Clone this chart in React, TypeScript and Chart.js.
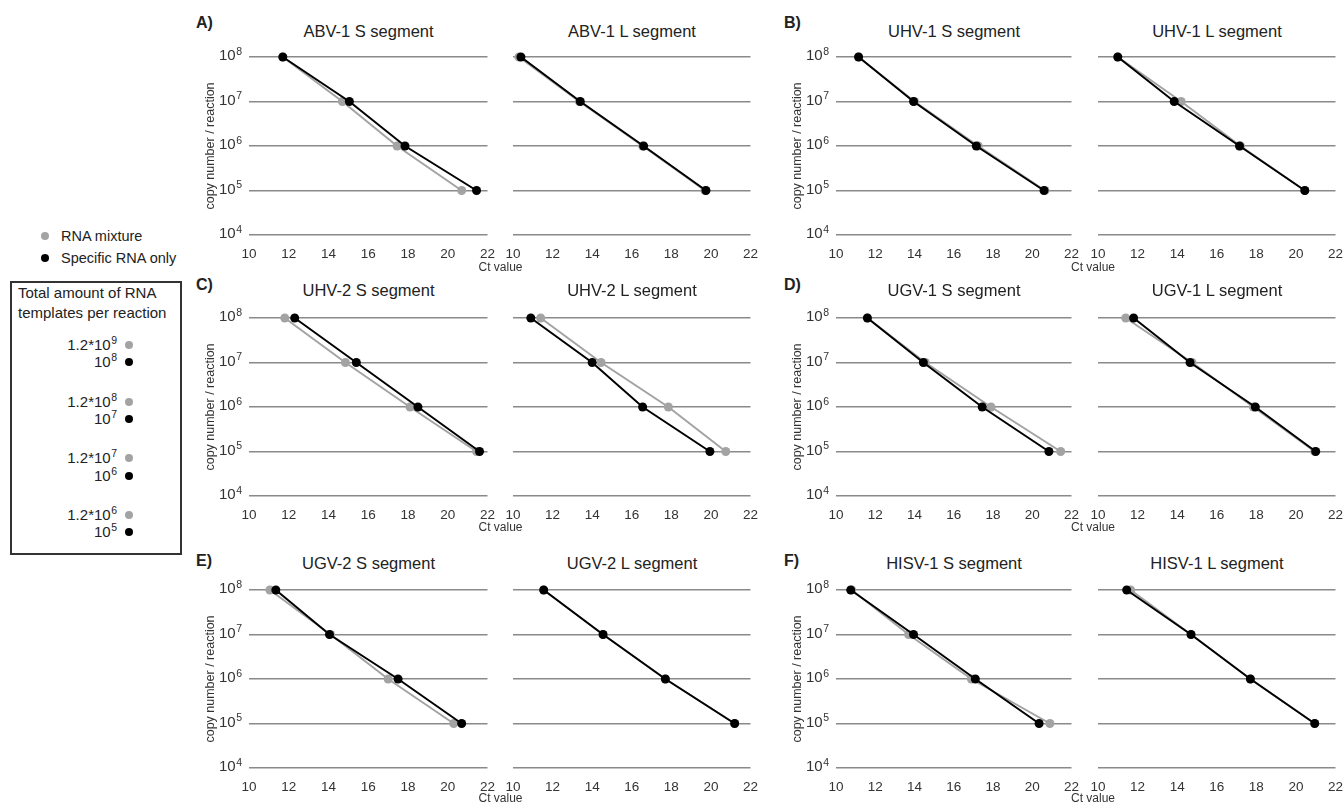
import React, { useEffect, useRef } from "react";
import { Chart, registerables } from "chart.js";

Chart.register(...registerables);

const FONT = '"Liberation Sans", Arial, sans-serif';
const GRAY = "#a3a3a3";
const TEXT = "#333333";

// copy numbers per reaction (specific template) for the 4 dilution steps
const copyNumbers = [1e8, 1e7, 1e6, 1e5];
const yTicks = [1e4, 1e5, 1e6, 1e7, 1e8];
const xTicks = [10, 12, 14, 16, 18, 20, 22];

const panelTitles = [
  "ABV-1 S segment", "ABV-1 L segment",
  "UHV-1 S segment", "UHV-1 L segment",
  "UHV-2 S segment", "UHV-2 L segment",
  "UGV-1 S segment", "UGV-1 L segment",
  "UGV-2 S segment", "UGV-2 L segment",
  "HISV-1 S segment", "HISV-1 L segment",
];
const panelLetters = ["A)", "B)", "C)", "D)", "E)", "F)"];

// Ct values: RNA mixture (grey) and specific RNA only (black)
const abv1S_mix = [11.7, 14.7, 17.45, 20.7];
const abv1S_spec = [11.7, 15.05, 17.85, 21.45];
const abv1L_mix = [10.3, 13.35, 16.55, 19.7];
const abv1L_spec = [10.4, 13.4, 16.6, 19.75];
const uhv1S_mix = [11.15, 14.0, 17.25, 20.65];
const uhv1S_spec = [11.15, 13.95, 17.15, 20.6];
const uhv1L_mix = [11.0, 14.2, 17.2, 20.45];
const uhv1L_spec = [11.0, 13.85, 17.15, 20.45];
const uhv2S_mix = [11.8, 14.85, 18.1, 21.45];
const uhv2S_spec = [12.3, 15.4, 18.5, 21.6];
const uhv2L_mix = [11.4, 14.45, 17.85, 20.75];
const uhv2L_spec = [10.9, 14.0, 16.55, 19.95];
const ugv1S_mix = [11.6, 14.55, 17.9, 21.45];
const ugv1S_spec = [11.6, 14.45, 17.45, 20.85];
const ugv1L_mix = [11.4, 14.75, 17.85, 20.95];
const ugv1L_spec = [11.8, 14.65, 17.95, 21.0];
const ugv2S_mix = [11.05, 14.1, 17.0, 20.3];
const ugv2S_spec = [11.35, 14.05, 17.5, 20.7];
const ugv2L_mix = [11.55, 14.55, 17.7, 21.2];
const ugv2L_spec = [11.55, 14.55, 17.7, 21.2];
const hisv1S_mix = [10.8, 13.7, 16.9, 20.9];
const hisv1S_spec = [10.75, 13.95, 17.1, 20.35];
const hisv1L_mix = [11.65, 14.7, 17.7, 20.95];
const hisv1L_spec = [11.45, 14.7, 17.7, 20.95];

const mixSeries = [abv1S_mix, abv1L_mix, uhv1S_mix, uhv1L_mix, uhv2S_mix, uhv2L_mix, ugv1S_mix, ugv1L_mix, ugv2S_mix, ugv2L_mix, hisv1S_mix, hisv1L_mix];
const specSeries = [abv1S_spec, abv1L_spec, uhv1S_spec, uhv1L_spec, uhv2S_spec, uhv2L_spec, ugv1S_spec, ugv1L_spec, ugv2S_spec, ugv2L_spec, hisv1S_spec, hisv1L_spec];

// legend entries
const legendMix = ["9", "8", "7", "6"];
const legendSpec = ["8", "7", "6", "5"];

// layout
const COL_X = [[249, 488], [513, 751], [836, 1072], [1098, 1336]];
const ROW_Y = [[57, 235], [318, 496], [590, 768]];
const LETTER_Y = [23, 285, 561];
const TITLE_Y = [31, 290, 563];
const CT_Y = [267, 527, 798];

const supTickPlugin = {
  id: "supTicks",
  afterDraw(chart: any, _args: any, opts: any) {
    if (!opts || !opts.enabled) return;
    const ctx = chart.ctx;
    const ys = chart.scales.y;
    const xr = chart.chartArea.left - 7;
    ctx.save();
    ctx.fillStyle = TEXT;
    yTicks.forEach((v) => {
      const py = ys.getPixelForValue(v);
      const exp = String(Math.round(Math.log10(v)));
      ctx.font = `10.5px ${FONT}`;
      ctx.textAlign = "right";
      ctx.textBaseline = "alphabetic";
      const ew = ctx.measureText(exp).width;
      ctx.fillText(exp, xr, py - 2.5);
      ctx.font = `15px ${FONT}`;
      ctx.textBaseline = "middle";
      ctx.fillText("10", xr - ew - 0.5, py - 1);
    });
    ctx.restore();
  },
};

function Panel({ idx }: { idx: number }) {
  const ref = useRef<HTMLCanvasElement>(null);
  const col = (Math.floor(idx / 2) % 2) * 2 + (idx % 2);
  const row = Math.floor(idx / 4);
  const [x0, x1] = COL_X[col];
  const [y0, y1] = ROW_Y[row];
  const showY = col % 2 === 0;
  const yW = showY ? 46 : 0;
  const padL = showY ? 4 : 12;
  const padR = 10;
  const padT = 10;
  const xH = 24;
  const padB = 10;
  const left = x0 - yW - padL;
  const top = y0 - padT;
  const width = padL + yW + (x1 - x0) + padR;
  const height = padT + (y1 - y0) + xH + padB;

  useEffect(() => {
    if (!ref.current) return;
    const spec = specSeries[idx];
    const mix = mixSeries[idx];
    const chart = new Chart(ref.current, {
      type: "line",
      data: {
        datasets: [
          {
            label: "Specific RNA only",
            data: spec.map((c, i) => ({ x: c, y: copyNumbers[i] })),
            borderColor: "#000",
            backgroundColor: "#000",
            pointBackgroundColor: "#000",
            pointRadius: 4.5,
            pointBorderWidth: 0,
            borderWidth: 2,
            clip: false as any,
          },
          {
            label: "RNA mixture",
            data: mix.map((c, i) => ({ x: c, y: copyNumbers[i] })),
            borderColor: GRAY,
            backgroundColor: GRAY,
            pointBackgroundColor: GRAY,
            pointRadius: 4.5,
            pointBorderWidth: 0,
            borderWidth: 2,
            clip: false as any,
          },
        ],
      },
      options: {
        responsive: false,
        animation: false,
        events: [],
        layout: { padding: { left: padL, right: padR, top: padT, bottom: padB } },
        plugins: {
          legend: { display: false },
          tooltip: { enabled: false },
          supTicks: { enabled: showY },
        } as any,
        scales: {
          x: {
            type: "linear",
            min: 10,
            max: 22,
            afterBuildTicks: (a: any) => {
              a.ticks = xTicks.map((v) => ({ value: v }));
            },
            afterFit: (s: any) => {
              s.height = xH;
            },
            grid: { display: false },
            border: { display: false },
            ticks: {
              padding: 3,
              color: TEXT,
              font: { family: FONT, size: 13.5 },
              maxRotation: 0,
              autoSkip: false,
            },
          },
          y: {
            type: "logarithmic",
            min: 1e4,
            max: 1e8,
            afterBuildTicks: (a: any) => {
              a.ticks = yTicks.map((v) => ({ value: v }));
            },
            afterFit: (s: any) => {
              s.width = yW;
            },
            grid: { color: "#8a8a8a", lineWidth: 1.5, drawTicks: false },
            border: { display: false },
            ticks: { display: false },
            title: {
              display: showY,
              text: "copy number / reaction",
              color: TEXT,
              font: { family: FONT, size: 12.5 },
              padding: 0,
            },
          },
        },
      } as any,
      plugins: [supTickPlugin as any],
    });
    return () => chart.destroy();
  }, [idx]);

  return (
    <canvas
      ref={ref}
      width={width}
      height={height}
      style={{ position: "absolute", left, top, width, height }}
    />
  );
}

const abs = (o: any): React.CSSProperties => ({ position: "absolute", whiteSpace: "nowrap", ...o });

function Sup({ children }: { children: React.ReactNode }) {
  return (
    <span style={{ fontSize: 10.5, position: "relative", top: -6, marginLeft: 0.5 }}>{children}</span>
  );
}

function Dot({ x, y, color, d = 8 }: { x: number; y: number; color: string; d?: number }) {
  return (
    <div
      style={abs({ left: x - d / 2, top: y - d / 2, width: d, height: d, borderRadius: "50%", background: color })}
    />
  );
}

export default function App() {
  const texts: React.ReactNode[] = [];
  // panel letters, titles, "Ct value" labels
  for (let p = 0; p < 6; p++) {
    const row = Math.floor(p / 2);
    const side = p % 2;
    texts.push(
      <div
        key={"l" + p}
        style={abs({
          left: side === 0 ? 196 : 784,
          top: LETTER_Y[row] - 10,
          lineHeight: "20px",
          fontSize: 16,
          fontWeight: "bold",
          color: "#222",
        })}
      >
        {panelLetters[p]}
      </div>
    );
    const ctX = side === 0 ? (COL_X[0][1] + COL_X[1][0]) / 2 : (COL_X[2][1] + COL_X[3][0]) / 2 + 8;
    texts.push(
      <div
        key={"ct" + p}
        style={abs({ left: ctX - 40, width: 80, textAlign: "center", top: CT_Y[row] - 8, lineHeight: "16px", fontSize: 12, color: TEXT })}
      >
        Ct value
      </div>
    );
  }
  for (let i = 0; i < 12; i++) {
    const col = (Math.floor(i / 2) % 2) * 2 + (i % 2);
    const row = Math.floor(i / 4);
    const cx = (COL_X[col][0] + COL_X[col][1]) / 2;
    texts.push(
      <div
        key={"t" + i}
        style={abs({ left: cx - 100, width: 200, textAlign: "center", top: TITLE_Y[row] - 10, lineHeight: "20px", fontSize: 16.5, color: "#222" })}
      >
        {panelTitles[i]}
      </div>
    );
  }

  const legendRowsY = [345, 362, 402, 419, 458, 476, 515, 532];

  return (
    <div
      style={{
        position: "absolute",
        left: 0,
        top: 0,
        width: 1344,
        height: 806,
        overflow: "hidden",
        background: "#fff",
        fontFamily: FONT,
      }}
    >
      {Array.from({ length: 12 }, (_, i) => (
        <Panel key={i} idx={i} />
      ))}
      {texts}

      {/* series legend */}
      <Dot x={45} y={236} color={GRAY} />
      <div style={abs({ left: 61, top: 226, lineHeight: "20px", fontSize: 14.5, color: "#222" })}>RNA mixture</div>
      <Dot x={45} y={258} color="#000" />
      <div style={abs({ left: 61, top: 248, lineHeight: "20px", fontSize: 14.5, color: "#222" })}>Specific RNA only</div>

      {/* template amount box */}
      <div
        style={abs({ left: 10, top: 281, width: 172, height: 274, border: "2px solid #333", boxSizing: "border-box" })}
      />
      <div style={abs({ left: 18, top: 283, lineHeight: "20px", fontSize: 15, color: "#222" })}>Total amount of RNA</div>
      <div style={abs({ left: 18, top: 303, lineHeight: "20px", fontSize: 15, color: "#222" })}>templates per reaction</div>
      {legendMix.map((e, k) => (
        <React.Fragment key={"lm" + k}>
          <div
            style={abs({ left: 15, width: 102, textAlign: "right", top: legendRowsY[2 * k] - 9, lineHeight: "18px", fontSize: 15, color: "#222" })}
          >
            1.2*10<Sup>{e}</Sup>
          </div>
          <Dot x={129} y={legendRowsY[2 * k]} color={GRAY} />
          <div
            style={abs({ left: 15, width: 102, textAlign: "right", top: legendRowsY[2 * k + 1] - 9, lineHeight: "18px", fontSize: 15, color: "#222" })}
          >
            10<Sup>{legendSpec[k]}</Sup>
          </div>
          <Dot x={129} y={legendRowsY[2 * k + 1]} color="#000" />
        </React.Fragment>
      ))}
    </div>
  );
}
